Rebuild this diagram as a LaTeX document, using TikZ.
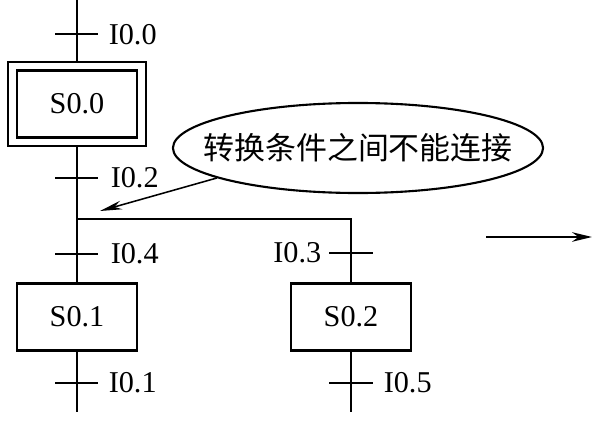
\documentclass[tikz,border=0pt]{standalone}
\usepackage{fontspec}
\setmainfont{Liberation Serif}
\newfontfamily\cjk{Noto Sans CJK SC}
\usetikzlibrary{arrows.meta,shapes.geometric}

\begin{document}
\begin{tikzpicture}[x=0.025cm, y=-0.025cm, line width=1.1pt,
    every node/.style={font=\fontsize{21.5}{25}\selectfont},
    stepbox/.style={draw, line width=1.8pt, minimum width=3cm, minimum height=1.67cm, inner sep=0pt},
    lbl/.style={inner sep=0pt},
    note/.style={draw, ellipse, line width=1.5pt, minimum width=9.25cm, minimum height=2.25cm, inner sep=0pt}]
  \useasboundingbox (0,0) rectangle (599,421);
  % steps
  \node[stepbox, minimum width=3.45cm, minimum height=2.1cm] (s00o) at (77,104) {};
  \node[stepbox] (s00) at (77,104) {S0.0};
  \node[stepbox] (s01) at (77,317) {S0.1};
  \node[stepbox] (s02) at (351,317) {S0.2};
  % free ends and branch points
  \coordinate (top) at (77,0);
  \coordinate (j) at (77,219);
  \coordinate (jr) at (351,219);
  \coordinate (endl) at (77,412);
  \coordinate (endr) at (351,412);
  \draw (top) -- (s00o);
  \draw (s00o) -- (j) -- (s01);
  \draw (s01) -- (endl);
  \draw (j) -- (jr) -- (s02);
  \draw (s02) -- (endr);
  % transitions
  \foreach \y in {34,178,254,383}
    \draw (55,\y) -- (98,\y);
  \foreach \y in {253,383}
    \draw (329,\y) -- (373,\y);
  \node[lbl, anchor=west] (i00) at (108,35) {I0.0};
  \node[lbl, anchor=west] (i02) at (110,178) {I0.2};
  \node[lbl, anchor=west] (i04) at (110,254) {I0.4};
  \node[lbl, anchor=west] (i01) at (108,383) {I0.1};
  \node[lbl, anchor=east] (i03) at (322,253) {I0.3};
  \node[lbl, anchor=west] (i05) at (383,383) {I0.5};
  % remark
  \node[note] (rem) at (358,148) {};
  \node[lbl, font=\cjk\fontsize{22}{26}\selectfont] (remtxt) at (rem.center) {转换条件之间不能连接};
  \coordinate (tip) at (100,211);
  \draw[-{Stealth[length=0.55cm,width=0.22cm]}] (rem.192) -- (tip);
  % flow direction
  \coordinate (a1) at (486,237);
  \coordinate (a2) at (592,237);
  \draw[-{Stealth[length=0.5cm,width=0.24cm]}] (a1) -- (a2);
\end{tikzpicture}
\end{document}
